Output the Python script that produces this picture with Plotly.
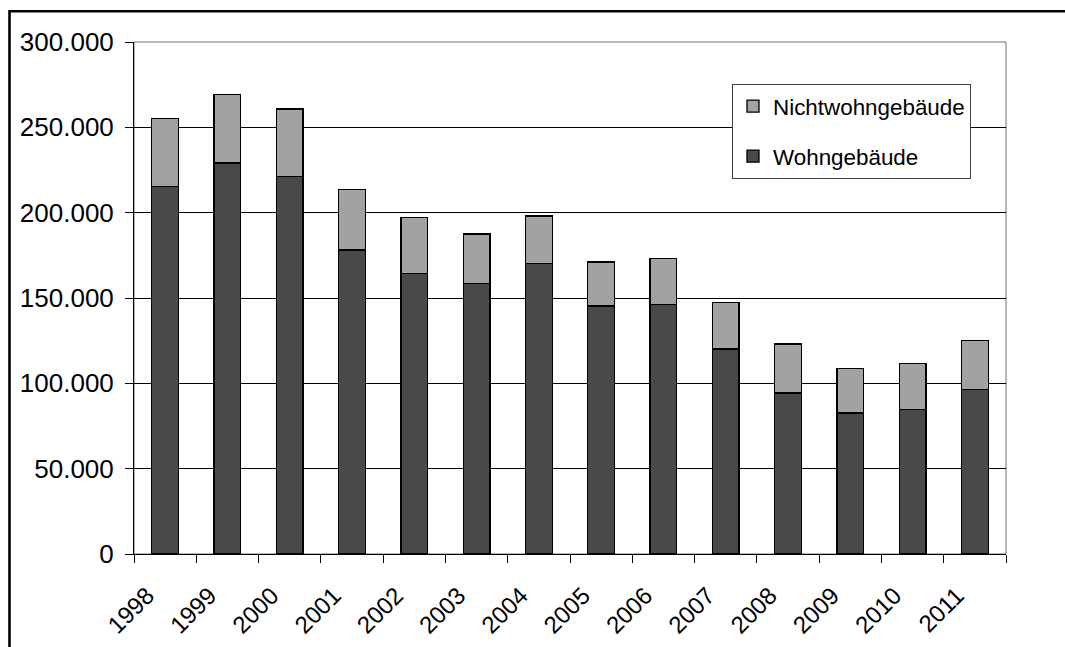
import plotly.graph_objects as go

years = ["1998", "1999", "2000", "2001", "2002", "2003", "2004",
         "2005", "2006", "2007", "2008", "2009", "2010", "2011"]
wohngebaeude = [215400, 229100, 221300, 178100, 164200, 158600, 170100,
                145300, 146300, 120100, 94300, 82600, 84600, 96300]
nichtwohngebaeude = [39700, 40200, 39400, 35400, 32900, 28900, 27900,
                     25800, 27000, 27100, 28700, 26000, 26900, 28700]
y_ticks = [0, 50000, 100000, 150000, 200000, 250000, 300000]

FONT = "Liberation Sans, Arial, sans-serif"

fig = go.Figure()
fig.add_trace(go.Bar(
    x=years, y=wohngebaeude, name="Wohngebäude", legendgroup="w",
    legendrank=2,
    marker=dict(color="#494949", line=dict(color="#000000", width=1.3)),
))
fig.add_trace(go.Bar(
    x=years, y=nichtwohngebaeude, name="Nichtwohngebäude", legendgroup="n",
    legendrank=1,
    marker=dict(color="#a2a2a2", line=dict(color="#000000", width=1.3)),
))

L, R, T, B = 134, 59, 42, 93
W, H = 1065, 647
pw = W - L - R
ph = H - T - B

fig.update_layout(
    width=W, height=H,
    autosize=False,
    margin=dict(l=L, r=R, t=T, b=B, pad=0, autoexpand=False),
    barmode="stack",
    bargap=0.57,
    separators=",.",
    paper_bgcolor="white",
    plot_bgcolor="white",
    font=dict(family=FONT, color="#000000"),
    showlegend=True,
    legend=dict(
        x=(732 - L) / pw, y=(H - B - 84) / ph,
        xanchor="left", yanchor="top",
        traceorder="grouped",
        tracegroupgap=18,
        font=dict(family=FONT, size=22.4, color="#000000"),
        bgcolor="white",
        bordercolor="#404040",
        borderwidth=1,
        itemwidth=30,
    ),
    xaxis=dict(
        type="category",
        automargin=False,
        showgrid=False,
        showline=True, linecolor="#000000", linewidth=1,
        ticks="outside", ticklen=8, tickcolor="#000000", tickwidth=1,
        tickson="boundaries",
        tickangle=-45,
        tickfont=dict(family=FONT, size=24, color="#000000"),
        ticklabelstandoff=17,
        ticklabelshift=-18,
    ),
    yaxis=dict(
        range=[0, 300000],
        automargin=False,
        tickvals=y_ticks,
        tickformat=",d",
        showgrid=True, gridcolor="#000000", gridwidth=1,
        showline=True, linecolor="#000000", linewidth=1,
        ticks="outside", ticklen=8, tickcolor="#000000", tickwidth=1,
        tickfont=dict(family=FONT, size=26, color="#000000"),
        ticklabelstandoff=6,
        zeroline=False,
    ),
    shapes=[
        dict(type="rect", xref="paper", yref="paper", x0=0, y0=0, x1=1, y1=1,
             line=dict(color="#707070", width=1), layer="below"),
        dict(type="rect", xref="paper", yref="paper",
             x0=(9.5 - L) / pw, y0=-0.5,
             x1=1.3, y1=(H - B - 11.3) / ph,
             line=dict(color="#000000", width=2.6), layer="above"),
    ],
)

fig.write_html(
    "out.html",
    config={"displayModeBar": False},
    post_script="document.body.style.margin='0';document.body.style.overflow='hidden';",
)
